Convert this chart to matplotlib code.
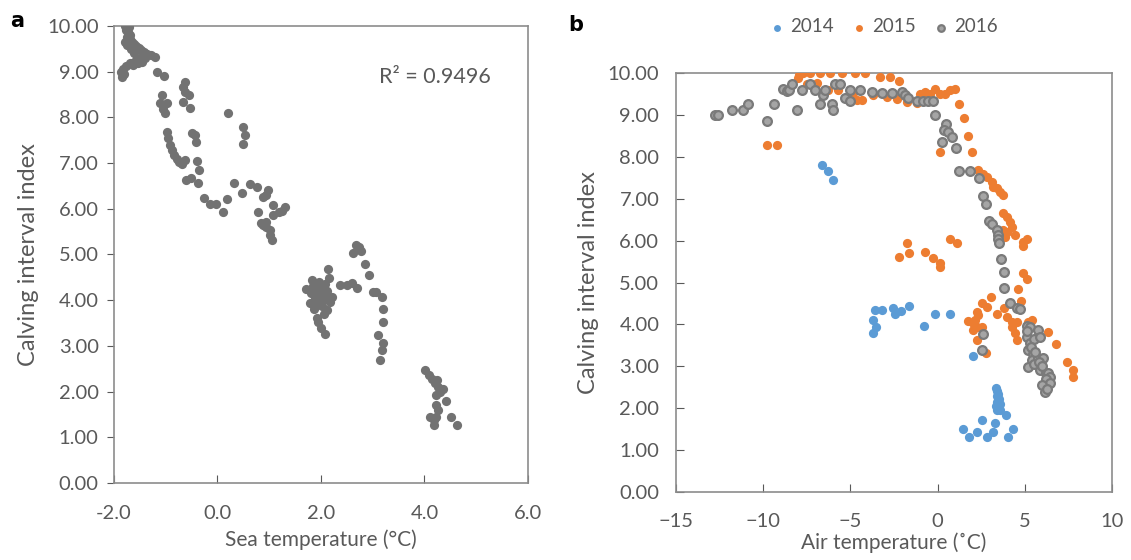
import matplotlib.pyplot as plt
from matplotlib.ticker import FormatStrFormatter, MultipleLocator

plt.rcParams['font.family'] = ['Lato', 'DejaVu Sans']

# panel a: sea temperature vs calving interval index
sea_x = [-1.78, -1.74, -1.71, -1.76, -1.72, -1.69, -1.75, -1.70, -1.78, -1.66, -1.62, -1.57, -1.52, -1.47,
         -1.42, -1.36, -1.29, -1.21, -1.40, -1.50, -1.58, -1.54, -1.46, -1.63, -1.70, -1.76, -1.82, -1.86,
         -1.85, -1.80, -1.66, -1.62, -1.68, -1.74,
         -1.17, -1.03, -1.08, -1.11, -0.98, -1.05, -1.01,
         -0.63, -0.66, -0.63, -0.56, -0.66, -0.53,
         -0.98, -0.95, -0.92, -0.88, -0.85, -0.79, -0.75, -0.69, -0.63,
         -0.50, -0.44, -0.42, -0.40, -0.35, -0.60, -0.51, -0.38,
         -0.27, -0.14, -0.03, 0.11, 0.19, 0.20, 0.32, 0.47,
         0.50, 0.53, 0.50, 0.62, 0.76, 0.98, 0.88, 0.94, 0.79,
         1.08, 1.08, 1.18, 1.30, 1.24,
         0.88, 0.94, 1.01, 1.01, 1.05, 0.84, 0.94,
         2.68, 2.61, 2.77, 2.74, 2.85, 2.93, 3.01, 3.06, 3.17, 3.20, 3.20, 3.11, 3.20, 3.17, 3.15,
         2.14, 1.82, 1.72, 1.79, 1.86, 1.92, 1.95, 2.01, 2.08,
         2.37, 2.50, 2.59, 2.70, 2.15, 2.21, 2.11, 2.18,
         1.85, 1.90, 1.95, 2.00, 2.05, 1.88, 1.98, 2.08, 2.12, 1.92, 2.02, 1.80, 2.10, 2.05, 1.96,
         4.01, 4.08, 4.14, 4.21, 4.27, 4.30, 4.22, 4.42, 4.23, 4.27, 4.11, 4.23, 4.18, 4.52, 4.62,
         4.18, 4.25, 4.35]
sea_y = [10.00, 10.00, 9.97, 9.92, 9.86, 9.80, 9.76, 9.71, 9.64, 9.66, 9.60, 9.56, 9.52, 9.47,
         9.43, 9.39, 9.36, 9.33, 9.30, 9.30, 9.25, 9.19, 9.22, 9.15, 9.20, 9.12, 9.06, 9.00,
         8.88, 8.96, 9.20, 9.40, 9.50, 9.58,
         9.00, 8.91, 8.49, 8.31, 8.31, 8.18, 8.09,
         8.78, 8.67, 8.56, 8.49, 8.34, 8.20,
         7.69, 7.54, 7.40, 7.29, 7.18, 7.10, 7.03, 6.99, 7.07,
         7.65, 7.62, 7.47, 7.05, 6.85, 6.63, 6.67, 6.56,
         6.23, 6.10, 6.10, 5.94, 6.21, 8.09, 6.56, 6.34,
         7.80, 7.62, 7.42, 6.54, 6.48, 6.42, 6.26, 6.30, 5.94,
         6.08, 5.86, 5.94, 6.03, 5.96,
         5.65, 5.61, 5.54, 5.43, 5.32, 5.69, 5.72,
         5.21, 5.03, 5.08, 5.17, 4.79, 4.55, 4.19, 4.19, 4.06, 3.80, 3.53, 3.24, 3.07, 2.91, 2.69,
         4.68, 4.44, 4.24, 3.93, 3.81, 3.60, 3.53, 3.39, 3.26,
         4.33, 4.33, 4.38, 4.26, 4.48, 4.08, 3.79, 3.95,
         4.30, 4.20, 4.10, 4.25, 4.15, 4.05, 3.98, 4.35, 4.20, 3.90, 3.88, 4.15, 4.02, 3.70, 4.40,
         2.47, 2.37, 2.28, 2.19, 2.09, 2.00, 1.93, 1.80, 1.71, 1.60, 1.45, 1.45, 1.27, 1.45, 1.27,
         1.38, 2.25, 2.05]

# panel b: air temperature vs calving interval index, per year
air14_x = [-6.65, -6.27, -6.01,
           -3.59, -3.20, -3.69, -3.54, -3.72, -2.58, -2.44, -2.10, -1.62, -0.76, -0.15, 0.71, 2.01,
           3.35, 3.40, 3.45, 3.38, 3.50, 3.42, 3.35, 3.48, 3.55, 3.40, 3.60, 3.92,
           1.44, 1.81, 2.24, 2.52, 2.85, 3.16, 3.29, 4.06, 4.31]
air14_y = [7.80, 7.65, 7.45,
           4.35, 4.34, 4.10, 3.93, 3.79, 4.38, 4.25, 4.33, 4.44, 3.96, 4.25, 4.25, 3.25,
           2.48, 2.42, 2.35, 2.28, 2.22, 2.15, 2.05, 2.00, 1.95, 1.95, 2.10, 1.84,
           1.50, 1.31, 1.44, 1.72, 1.31, 1.44, 1.64, 1.31, 1.50]

air15_x = [-9.80, -9.19,
           -7.93, -7.98, -7.70, -7.32, -6.74, -6.15, -5.50, -4.74, -4.15, -3.30, -2.72, -2.19,
           -7.50, -6.93, -6.30, -5.70, -4.83, -4.60, -4.35, -3.69, -2.92, -2.35, -1.77, -1.20,
           -1.01, -0.72, -0.44, -0.15, 0.14, 0.42, 0.71, 1.00,
           1.25, 1.51, 1.76, 1.95, 0.14, 2.33, 2.62, 2.81, 3.10, 3.19, 3.38, 3.58, 3.76,
           3.76, 3.96, 4.15, 4.24, 3.76, 3.96, 3.86, 4.43, 4.91, 5.10, 4.87,
           0.71, 1.09, -1.78, -2.19, -1.62, -0.72, -0.28, 0.14, 0.14,
           4.91, 5.10, 4.61, 4.81, 3.05, 2.52, 2.81, 2.24, 2.33, 2.15, 1.76, 2.05, 2.24, 2.52,
           2.05, 2.24, 2.78, 3.43, 3.81, 3.96, 4.24, 4.53, 4.24, 4.43, 4.53, 5.20, 5.44,
           6.35, 6.79, 7.43, 7.74, 7.74]
air15_y = [8.29, 8.29,
           9.95, 9.88, 10.00, 10.00, 10.00, 10.00, 10.00, 10.00, 10.00, 9.91, 9.91, 9.82,
           9.73, 9.75, 9.60, 9.60, 9.52, 9.36, 9.36, 9.47, 9.43, 9.37, 9.32, 9.28,
           9.51, 9.55, 9.51, 9.61, 9.51, 9.51, 9.59, 9.61,
           9.26, 8.92, 8.50, 8.12, 8.12, 7.68, 7.59, 7.52, 7.41, 7.29, 7.25, 7.17, 7.09,
           6.65, 6.57, 6.45, 6.33, 6.25, 6.21, 6.09, 6.13, 5.97, 6.05, 5.87,
           6.05, 5.95, 5.95, 5.62, 5.71, 5.72, 5.58, 5.46, 5.38,
           5.22, 5.08, 4.84, 4.57, 4.66, 4.50, 4.42, 4.30, 4.22, 4.10, 4.09, 4.03, 3.95, 3.93,
           3.87, 3.63, 3.31, 4.25, 4.38, 4.18, 4.06, 4.06, 3.93, 3.79, 3.63, 4.06, 4.10,
           3.83, 3.53, 3.11, 2.91, 2.75]

air16_x = [-12.76, -12.60, -11.81, -11.14, -10.86, -9.80, -9.38, -8.85, -8.65, -8.50, -8.37, -8.08,
           -7.80, -7.32, -7.04, -6.74, -6.55, -6.45, -6.07, -5.97, -5.88, -5.59, -5.30, -5.05, -5.05,
           -4.45, -3.78, -3.20, -2.63, -2.06, -1.86, -1.68, -1.16, -0.85, -0.57, -0.28, -0.15,
           0.48, 0.37, 0.60, 0.81, 0.23, 1.06, 1.25, 1.86, 2.37, 2.62, 2.76, 2.97, 3.10, 3.39,
           3.44, 3.48, 3.53, 3.66, 3.82, 3.82, 4.15, 4.53, 4.73, 5.10, 5.30, 5.77, 5.10, 5.30,
           5.50, 5.85, 5.20, 5.45, 5.39, 5.20, 5.75, 6.06, 5.90, 6.20, 6.35, 6.43, 6.24, 6.45,
           5.97, 6.16, 6.30, 2.58, 2.52, 5.15, 5.35, 5.60, 5.50, 5.80, 6.00]
air16_y = [9.00, 9.00, 9.12, 9.12, 9.26, 8.86, 9.26, 9.61, 9.58, 9.60, 9.73, 9.12,
           9.59, 9.74, 9.59, 9.26, 9.47, 9.60, 9.26, 9.12, 9.74, 9.74, 9.40, 9.33, 9.59,
           9.59, 9.54, 9.53, 9.53, 9.55, 9.47, 9.40, 9.34, 9.34, 9.34, 9.34, 9.00,
           8.78, 8.64, 8.60, 8.48, 8.36, 8.22, 7.65, 7.65, 7.50, 7.07, 6.87, 6.48, 6.40, 6.25,
           6.13, 6.05, 5.94, 5.55, 5.26, 4.86, 4.50, 4.38, 4.36, 3.96, 3.95, 3.87, 3.71, 3.55,
           3.65, 3.70, 3.39, 3.30, 3.15, 2.99, 3.19, 3.19, 2.91, 2.85, 2.83, 2.75, 2.70, 2.60,
           2.55, 2.39, 2.45, 3.77, 3.39, 3.85, 3.45, 3.35, 3.05, 3.10, 3.00]

txt = '#595959'
spine = '#8c8c8c'

fig = plt.figure(figsize=(11.31, 5.6), dpi=100)
axa = fig.add_axes([0.1008, 0.1375, 0.366, 0.8161])
axb = fig.add_axes([0.5977, 0.1214, 0.3855, 0.7482])

axa.scatter(sea_x, sea_y, s=44, color='#727272', linewidths=0, zorder=3)
axa.set_xlim(-2, 6)
axa.set_ylim(0, 10)
axa.xaxis.set_major_locator(MultipleLocator(2))
axa.yaxis.set_major_locator(MultipleLocator(1))
axa.xaxis.set_major_formatter(FormatStrFormatter('%.1f'))
axa.yaxis.set_major_formatter(FormatStrFormatter('%.2f'))
axa.tick_params(axis='x', direction='in', length=6, pad=16, labelsize=14.5, colors=txt)
axa.tick_params(axis='y', direction='out', length=5, pad=6, labelsize=14.5, colors=txt)
axa.set_xlabel('Sea temperature (°C)', fontsize=15, color=txt, labelpad=5)
axa.set_ylabel('Calving interval index', fontsize=17, color=txt, labelpad=6)
axa.text(0.775, 0.888, 'R² = 0.9496', transform=axa.transAxes, ha='center', va='center',
         fontsize=15.5, color=txt)

axb.scatter(air14_x, air14_y, s=44, color='#5b9bd5', linewidths=0, zorder=3, label='2014')
axb.scatter(air15_x, air15_y, s=44, color='#ed7d31', linewidths=0, zorder=3, label='2015')
axb.scatter(air16_x, air16_y, s=40, color='#a5a5a5', edgecolors='#7a7a7a', linewidths=1.6,
            zorder=4, label='2016')
axb.set_xlim(-15, 10)
axb.set_ylim(0, 10)
axb.xaxis.set_major_locator(MultipleLocator(5))
axb.yaxis.set_major_locator(MultipleLocator(1))
axb.yaxis.set_major_formatter(FormatStrFormatter('%.2f'))
axb.tick_params(axis='both', direction='in', length=6, labelsize=14.5, colors=txt)
axb.tick_params(axis='x', pad=15)
axb.tick_params(axis='y', pad=12)
axb.set_xlabel('Air temperature (˚C)', fontsize=15, color=txt, labelpad=2)
axb.set_ylabel('Calving interval index', fontsize=17, color=txt, labelpad=6)
leg = axb.legend(loc='center', bbox_to_anchor=(0.477, 1.11), ncol=3, frameon=False,
                 fontsize=13.5, handlelength=0.7, handletextpad=0.35, columnspacing=1.0,
                 markerscale=0.75)
for t in leg.get_texts():
    t.set_color(txt)

for ax in (axa, axb):
    for s in ax.spines.values():
        s.set_color(spine)
        s.set_linewidth(1.2)

fig.text(0.009, 0.963, 'a', fontsize=15, fontweight='bold', family='DejaVu Sans', va='center')
fig.text(0.502, 0.955, 'b', fontsize=15, fontweight='bold', family='DejaVu Sans', va='center')

fig.savefig('out.png', dpi=100)
